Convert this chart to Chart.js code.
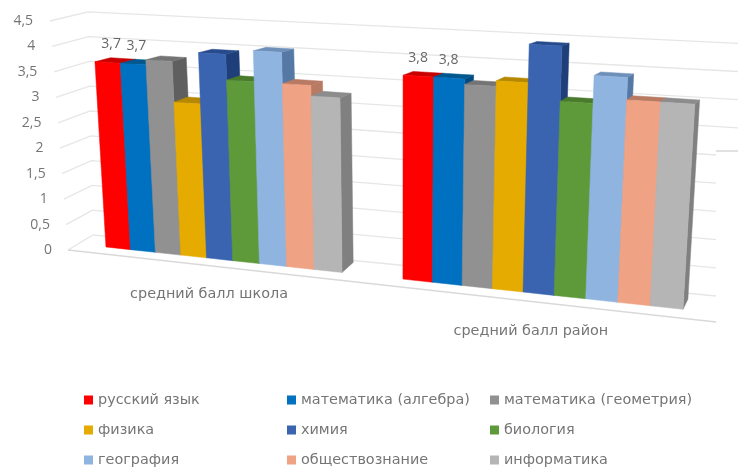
<!DOCTYPE html>
<html>
<head>
<meta charset="utf-8">
<script src="https://cdn.jsdelivr.net/npm/chart.js@4"></script>
<style>
  html, body { margin: 0; padding: 0; background: #fff; }
  #wrap { width: 738px; height: 468px; }
  canvas { filter: blur(0.6px); }
</style>
</head>
<body>
<div id="wrap"><canvas id="chart" width="738" height="468"></canvas></div>
<script>
// data
const categories = ['средний балл школа', 'средний балл район'];
const tickLabels = ['0', '0,5', '1', '1,5', '2', '2,5', '3', '3,5', '4', '4,5'];
const russian = [3.7, 3.8];
const algebra = [3.7, 3.8];
const geometry = [3.8, 3.7];
const physics = [3.0, 3.8];
const chemistry = [4.0, 4.5];
const biology = [3.5, 3.5];
const geography = [4.1, 4.0];
const social = [3.5, 3.6];
const informatics = [3.3, 3.6];

const textColor = '#757575';
const font = '"Open Sans", sans-serif';
const wideFont = '"DejaVu Sans", sans-serif';

// front colour, side colour, top colour
const series = [
  ['русский язык', russian, '#ff0000', '#a80000', '#c80000'],
  ['математика (алгебра)', algebra, '#0070c0', '#004a80', '#00588f'],
  ['математика (геометрия)', geometry, '#919191', '#5f5f5f', '#747474'],
  ['физика', physics, '#e5ab00', '#9a7300', '#b68800'],
  ['химия', chemistry, '#3a64b0', '#1e3f7a', '#264a8a'],
  ['биология', biology, '#5f9a3a', '#3f6826', '#4a7a2c'],
  ['география', geography, '#8fb4e0', '#5578a5', '#6d8fb8'],
  ['обществознание', social, '#efa284', '#b87a62', '#b87a62'],
  ['информатика', informatics, '#b5b5b5', '#808080', '#8c8c8c']
];

// flat chart coords -> the tilted 3D look of the picture
function baseX(s) { return 80.45 + 529.2 * s + 108.8 * s * s; }
function project(s, v) {
  const xb = baseX(s);
  const yb = 247 + 0.108 * (xb - 106);
  const h = v * (50 + 0.012 * (xb - 100));
  return { x: xb + (xb - 400) / 4940 * h, y: yb - h };
}
function back(s, v) {
  const p = project(s, v);
  const xb = baseX(s);
  return { x: p.x + 15.5 - (xb - 106) * 0.0185, y: p.y - (10 - 6 * v / 3.7) };
}
function poly(ctx, pts, color) {
  ctx.beginPath();
  pts.forEach((p, i) => i ? ctx.lineTo(p.x, p.y) : ctx.moveTo(p.x, p.y));
  ctx.closePath();
  ctx.fillStyle = color;
  ctx.fill();
  ctx.strokeStyle = color;
  ctx.lineWidth = 0.5;
  ctx.stroke();
}
function line(ctx, pts) {
  ctx.beginPath();
  pts.forEach((p, i) => i ? ctx.lineTo(p[0], p[1]) : ctx.moveTo(p[0], p[1]));
  ctx.stroke();
}

const bars3d = {
  id: 'bars3d',
  beforeDatasetsDraw(chart) {
    const ctx = chart.ctx;
    const area = chart.chartArea;
    const yScale = chart.scales.y;
    const toS = px => (px - area.left) / (area.right - area.left);
    ctx.save();

    // walls
    ctx.strokeStyle = '#e6e6e6';
    ctx.lineWidth = 1.3;
    yScale.ticks.forEach((t, i) => {
      const v = t.value;
      const y = yScale.getPixelForValue(v);
      const wallR = 296 - v * 56.4;
      const cornerX = 93 - v * 1.1;
      const cornerY = 235 - v * 49.6;
      const endX = v >= 3 ? 738 : 716;
      const endY = wallR + (endX - 716) * 0.05;
      line(ctx, [[68 - v * 4, y], [cornerX, cornerY], [endX, endY]]);
      // tick label
      ctx.fillStyle = textColor;
      ctx.font = '14px ' + font;
      ctx.textAlign = 'right';
      ctx.textBaseline = 'middle';
      ctx.fillText(tickLabels[i], 52 - v * 4.2, y);
    });
    ctx.strokeStyle = '#d9d9d9';
    line(ctx, [[68, yScale.getPixelForValue(0)], [716, 322]]);
    ctx.strokeStyle = '#c4c4c4';
    ctx.lineWidth = 1;
    line(ctx, [[716, 151], [738, 151]]);

    // bars, left to right so the nearer bar hides the side of the previous one
    categories.forEach((c, k) => {
      chart.data.datasets.forEach((ds, d) => {
        const el = chart.getDatasetMeta(d).data[k];
        const s0 = toS(el.x - el.width / 2);
        const s1 = toS(el.x + el.width / 2);
        const v = yScale.getValueForPixel(el.y);
        const st = series[d];
        poly(ctx, [project(s1, 0), project(s1, v), back(s1, v), back(s1, 0)], st[3]);
        poly(ctx, [project(s0, v), project(s1, v), back(s1, v), back(s0, v)], st[4]);
        poly(ctx, [project(s0, 0), project(s1, 0), project(s1, v), project(s0, v)], st[2]);
      });
    });

    // value labels on the first two series
    ctx.fillStyle = '#666666';
    ctx.font = '14px ' + font;
    ctx.textAlign = 'center';
    ctx.textBaseline = 'middle';
    [0, 1].forEach(d => {
      categories.forEach((c, k) => {
        const el = chart.getDatasetMeta(d).data[k];
        const v = chart.data.datasets[d].data[k];
        const p0 = project(toS(el.x - el.width / 2), v);
        const p1 = project(toS(el.x + el.width / 2), v);
        const mx = (p0.x + p1.x) / 2;
        ctx.fillText(String(v).replace('.', ','), mx + (400 - mx) * 0.012, (p0.y + p1.y) / 2 - 18.5);
      });
    });

    // category labels under the floor edge
    ctx.fillStyle = textColor;
    ctx.font = '14.4px ' + wideFont;
    categories.forEach((c, k) => {
      const x = baseX(toS(chart.scales.x.getPixelForValue(k))) * 1.009 - 12.5;
      ctx.fillText(c, x, 248 + 0.114 * (x - 68) + 30);
    });

    // legend, three rows in three columns
    const colMark = [84, 287, 490];
    const rowY = [400, 430, 460];
    ctx.textAlign = 'left';
    series.forEach((st, i) => {
      const x = colMark[i % 3];
      const y = rowY[Math.floor(i / 3)];
      ctx.fillStyle = st[2];
      ctx.fillRect(x, y - 4.5, 9, 9);
      ctx.fillStyle = textColor;
      ctx.fillText(st[0], x + 14, y + 0.5);
    });

    ctx.restore();
    return false;
  }
};

const chart = new Chart(document.getElementById('chart'), {
  type: 'bar',
  data: {
    labels: categories,
    datasets: series.map(st => ({ label: st[0], data: st[1], backgroundColor: st[2] }))
  },
  options: {
    responsive: false,
    animation: false,
    layout: { padding: { left: 80, right: 20, top: 21, bottom: 210 } },
    plugins: { legend: { display: false }, tooltip: { enabled: false } },
    datasets: { bar: { categoryPercentage: 0.809, barPercentage: 1 } },
    scales: {
      x: { grid: { display: false }, border: { display: false }, ticks: { display: false } },
      y: {
        min: 0,
        max: 4.5,
        grid: { display: false },
        border: { display: false },
        ticks: { display: false, stepSize: 0.5 }
      }
    }
  },
  plugins: [bars3d]
});
</script>
</body>
</html>
